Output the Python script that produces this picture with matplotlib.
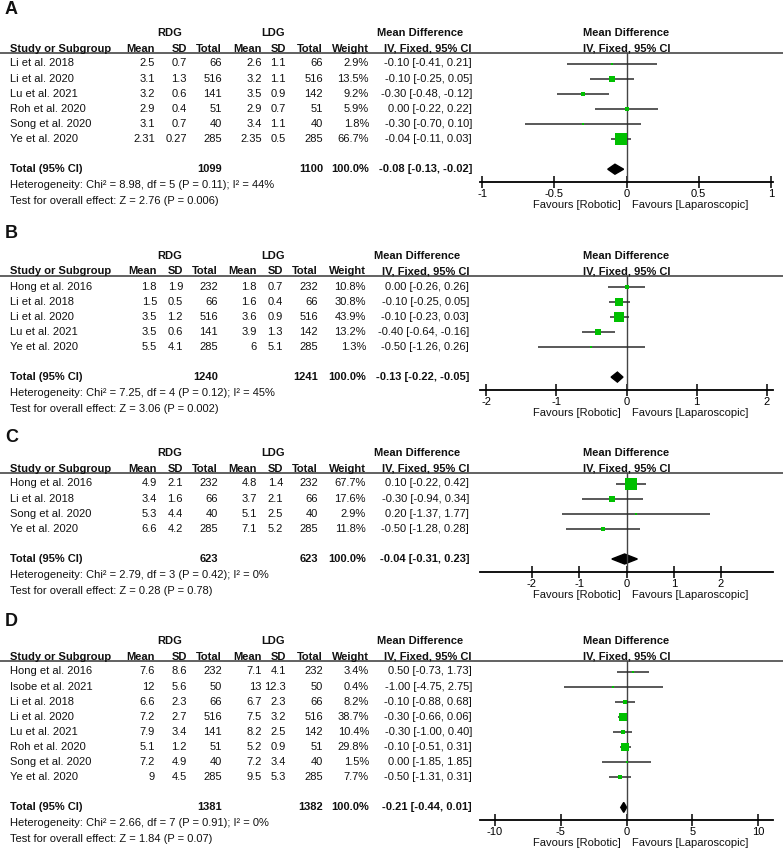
import matplotlib
matplotlib.use("Agg")
import matplotlib.pyplot as plt
from matplotlib.patches import Polygon

W, H = 783, 851
plt.rcParams["font.family"] = ["Liberation Sans", "DejaVu Sans"]

# ---- Panel A ----
studies_a = ["Li et al. 2018", "Li et al. 2020", "Lu et al. 2021", "Roh et al. 2020", "Song et al. 2020", "Ye et al. 2020"]
rdg_mean_a = [2.5, 3.1, 3.2, 2.9, 3.1, 2.31]
rdg_sd_a = [0.7, 1.3, 0.6, 0.4, 0.7, 0.27]
rdg_n_a = [66, 516, 141, 51, 40, 285]
ldg_mean_a = [2.6, 3.2, 3.5, 2.9, 3.4, 2.35]
ldg_sd_a = [1.1, 1.1, 0.9, 0.7, 1.1, 0.5]
ldg_n_a = [66, 516, 142, 51, 40, 285]
weight_a = [2.9, 13.5, 9.2, 5.9, 1.8, 66.7]
md_a = [-0.10, -0.10, -0.30, 0.00, -0.30, -0.04]
lo_a = [-0.41, -0.25, -0.48, -0.22, -0.70, -0.11]
hi_a = [0.21, 0.05, -0.12, 0.22, 0.10, 0.03]
total_a = [1099, 1100, -0.08, -0.13, -0.02]
het_a = "Heterogeneity: Chi\u00b2 = 8.98, df = 5 (P = 0.11); I\u00b2 = 44%"
test_a = "Test for overall effect: Z = 2.76 (P = 0.006)"
ticks_a = [-1, -0.5, 0, 0.5, 1]

# ---- Panel B ----
studies_b = ["Hong et al. 2016", "Li et al. 2018", "Li et al. 2020", "Lu et al. 2021", "Ye et al. 2020"]
rdg_mean_b = [1.8, 1.5, 3.5, 3.5, 5.5]
rdg_sd_b = [1.9, 0.5, 1.2, 0.6, 4.1]
rdg_n_b = [232, 66, 516, 141, 285]
ldg_mean_b = [1.8, 1.6, 3.6, 3.9, 6]
ldg_sd_b = [0.7, 0.4, 0.9, 1.3, 5.1]
ldg_n_b = [232, 66, 516, 142, 285]
weight_b = [10.8, 30.8, 43.9, 13.2, 1.3]
md_b = [0.00, -0.10, -0.10, -0.40, -0.50]
lo_b = [-0.26, -0.25, -0.23, -0.64, -1.26]
hi_b = [0.26, 0.05, 0.03, -0.16, 0.26]
total_b = [1240, 1241, -0.13, -0.22, -0.05]
het_b = "Heterogeneity: Chi\u00b2 = 7.25, df = 4 (P = 0.12); I\u00b2 = 45%"
test_b = "Test for overall effect: Z = 3.06 (P = 0.002)"
ticks_b = [-2, -1, 0, 1, 2]

# ---- Panel C ----
studies_c = ["Hong et al. 2016", "Li et al. 2018", "Song et al. 2020", "Ye et al. 2020"]
rdg_mean_c = [4.9, 3.4, 5.3, 6.6]
rdg_sd_c = [2.1, 1.6, 4.4, 4.2]
rdg_n_c = [232, 66, 40, 285]
ldg_mean_c = [4.8, 3.7, 5.1, 7.1]
ldg_sd_c = [1.4, 2.1, 2.5, 5.2]
ldg_n_c = [232, 66, 40, 285]
weight_c = [67.7, 17.6, 2.9, 11.8]
md_c = [0.10, -0.30, 0.20, -0.50]
lo_c = [-0.22, -0.94, -1.37, -1.28]
hi_c = [0.42, 0.34, 1.77, 0.28]
total_c = [623, 623, -0.04, -0.31, 0.23]
het_c = "Heterogeneity: Chi\u00b2 = 2.79, df = 3 (P = 0.42); I\u00b2 = 0%"
test_c = "Test for overall effect: Z = 0.28 (P = 0.78)"
ticks_c = [-2, -1, 0, 1, 2]

# ---- Panel D ----
studies_d = ["Hong et al. 2016", "Isobe et al. 2021", "Li et al. 2018", "Li et al. 2020",
             "Lu et al. 2021", "Roh et al. 2020", "Song et al. 2020", "Ye et al. 2020"]
rdg_mean_d = [7.6, 12, 6.6, 7.2, 7.9, 5.1, 7.2, 9]
rdg_sd_d = [8.6, 5.6, 2.3, 2.7, 3.4, 1.2, 4.9, 4.5]
rdg_n_d = [232, 50, 66, 516, 141, 51, 40, 285]
ldg_mean_d = [7.1, 13, 6.7, 7.5, 8.2, 5.2, 7.2, 9.5]
ldg_sd_d = [4.1, 12.3, 2.3, 3.2, 2.5, 0.9, 3.4, 5.3]
ldg_n_d = [232, 50, 66, 516, 142, 51, 40, 285]
weight_d = [3.4, 0.4, 8.2, 38.7, 10.4, 29.8, 1.5, 7.7]
md_d = [0.50, -1.00, -0.10, -0.30, -0.30, -0.10, 0.00, -0.50]
lo_d = [-0.73, -4.75, -0.88, -0.66, -1.00, -0.51, -1.85, -1.31]
hi_d = [1.73, 2.75, 0.68, 0.06, 0.40, 0.31, 1.85, 0.31]
total_d = [1381, 1382, -0.21, -0.44, 0.01]
het_d = "Heterogeneity: Chi\u00b2 = 2.66, df = 7 (P = 0.91); I\u00b2 = 0%"
test_d = "Test for overall effect: Z = 1.84 (P = 0.07)"
ticks_d = [-10, -5, 0, 5, 10]

# layout (pixels): label y, header y, x half-range, table column right edges
cols_ad = [155, 187, 222, 262, 286, 323, 369, 472]
cols_bc = [157, 183, 218, 257, 283, 318, 366, 469]
panels = [
    ("A", 10, 33, 1.015, cols_ad, studies_a, rdg_mean_a, rdg_sd_a, rdg_n_a, ldg_mean_a, ldg_sd_a, ldg_n_a,
     weight_a, md_a, lo_a, hi_a, total_a, het_a, test_a, ticks_a),
    ("B", 233, 256, 2.09, cols_bc, studies_b, rdg_mean_b, rdg_sd_b, rdg_n_b, ldg_mean_b, ldg_sd_b, ldg_n_b,
     weight_b, md_b, lo_b, hi_b, total_b, het_b, test_b, ticks_b),
    ("C", 438, 453, 3.1, cols_bc, studies_c, rdg_mean_c, rdg_sd_c, rdg_n_c, ldg_mean_c, ldg_sd_c, ldg_n_c,
     weight_c, md_c, lo_c, hi_c, total_c, het_c, test_c, ticks_c),
    ("D", 622, 641, 11.1, cols_ad, studies_d, rdg_mean_d, rdg_sd_d, rdg_n_d, ldg_mean_d, ldg_sd_d, ldg_n_d,
     weight_d, md_d, lo_d, hi_d, total_d, het_d, test_d, ticks_d),
]

FS = 8
GREEN = "#00c000"
LINE = "#2b2b2b"

fig = plt.figure(figsize=(W / 100, H / 100), dpi=100)
bg = fig.add_axes([0, 0, 1, 1])
bg.set_xlim(0, W)
bg.set_ylim(H, 0)
bg.axis("off")


def txt(x, y, s, ha="right", bold=False, size=FS):
    bg.text(x, y, s, ha=ha, va="center", fontsize=size,
            fontweight="bold" if bold else "normal", color="#111111")


fx0, fx1, fmid = 480, 773, 626.5
rs = 15.1

for (lab, lab_y, head_y, half, cols, studies, rm, rsd, rn, lm, lsd, ln,
     wt, md, lo, hi, tot, het, test, ticks) in panels:
    n = len(studies)
    r0 = head_y + 30.5
    ul = head_y + 20
    tot_y = r0 + (n + 1) * rs
    axis_y = tot_y + 13

    txt(5, lab_y, lab, ha="left", bold=True, size=13)
    txt(170, head_y, "RDG", ha="center", bold=True)
    txt(273, head_y, "LDG", ha="center", bold=True)
    txt(cols[7] - 9, head_y, "Mean Difference", bold=True)
    txt(fmid, head_y, "Mean Difference", ha="center", bold=True)
    hy = head_y + 15.5
    txt(10, hy, "Study or Subgroup", ha="left", bold=True)
    for x, s in zip(cols, ["Mean", "SD", "Total", "Mean", "SD", "Total", "Weight", "IV, Fixed, 95% CI"]):
        txt(x, hy, s, bold=True)
    txt(fmid, hy, "IV, Fixed, 95% CI", ha="center", bold=True)
    bg.plot([0, W], [ul, ul], color="#555555", lw=1.3)

    for i in range(n):
        y = r0 + i * rs
        txt(10, y, studies[i], ha="left")
        vals = [f"{rm[i]:g}", f"{rsd[i]:g}", f"{rn[i]}", f"{lm[i]:g}", f"{lsd[i]:g}", f"{ln[i]}",
                f"{wt[i]:.1f}%", f"{md[i]:.2f} [{lo[i]:.2f}, {hi[i]:.2f}]"]
        for x, s in zip(cols, vals):
            txt(x, y, s)

    txt(10, tot_y, "Total (95% CI)", ha="left", bold=True)
    txt(cols[2], tot_y, f"{tot[0]}", bold=True)
    txt(cols[5], tot_y, f"{tot[1]}", bold=True)
    txt(cols[6], tot_y, "100.0%", bold=True)
    txt(cols[7], tot_y, f"{tot[2]:.2f} [{tot[3]:.2f}, {tot[4]:.2f}]", bold=True)
    txt(10, tot_y + 16, het, ha="left")
    txt(10, tot_y + 32, test, ha="left")
    txt(fmid - 6, axis_y + 23, "Favours [Robotic]")
    txt(fmid + 5, axis_y + 23, "Favours [Laparoscopic]", ha="left")

    # forest plot axes
    ax = fig.add_axes([fx0 / W, 1 - axis_y / H, (fx1 - fx0) / W, (axis_y - ul) / H])
    ax.set_xlim(-half, half)
    ax.set_ylim((axis_y - r0) / rs, (ul - r0) / rs)
    ax.patch.set_alpha(0)
    for s in ["top", "left", "right"]:
        ax.spines[s].set_visible(False)
    ax.spines["bottom"].set_linewidth(1.3)
    ax.set_yticks([])
    ax.set_xticks(ticks)
    ax.set_xticklabels([f"{t:g}" for t in ticks])
    ax.tick_params(axis="x", direction="inout", length=8, width=1.1, pad=1, labelsize=FS)
    ax.axvline(0, color="#444444", lw=1)

    for i in range(n):
        ax.hlines(i, lo[i], hi[i], color=LINE, lw=1.1)
        side = max(2.0, 1.4 * wt[i] ** 0.5)
        ax.plot(md[i], i, "s", ms=side * 0.72, color=GREEN, mew=0)

    t = n + 1
    h = 5 / rs
    ax.add_patch(Polygon([(tot[3], t), (tot[2], t - h), (tot[4], t), (tot[2], t + h)],
                         closed=True, color="black"))

fig.savefig("out.png", dpi=100)
